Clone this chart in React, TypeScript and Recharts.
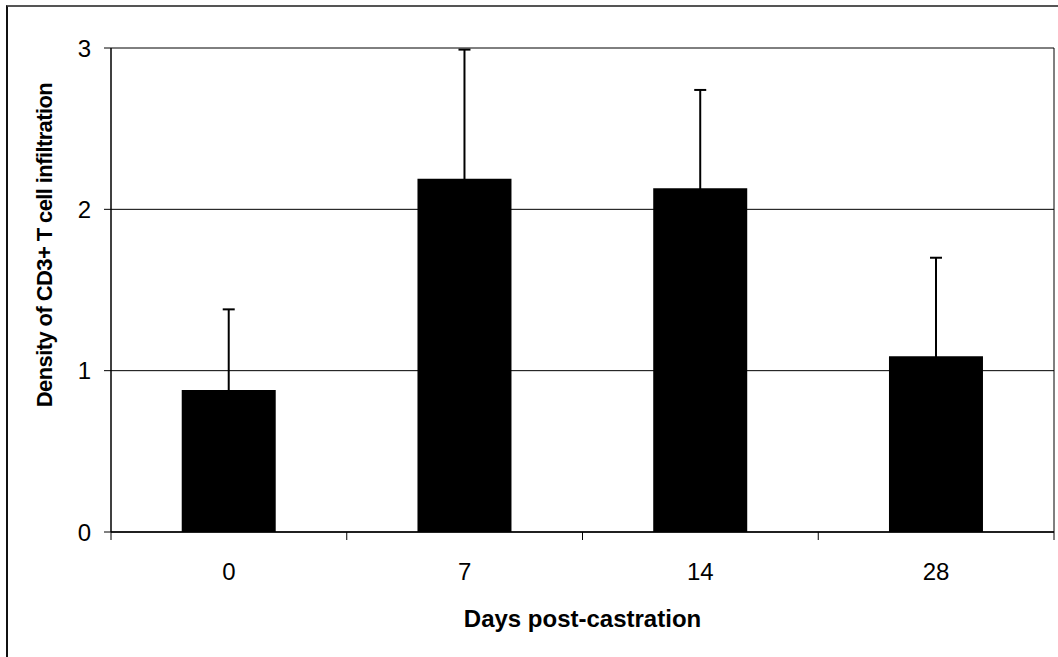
import React from 'react';
import { BarChart, Bar, XAxis, YAxis, CartesianGrid, ErrorBar, Label } from 'recharts';

const categories = ['0', '7', '14', '28'];
const means = [0.88, 2.19, 2.13, 1.09];
const errors = [0.5, 0.8, 0.61, 0.61];
const yTicks = [0, 1, 2, 3];
const xTitle = 'Days post-castration';
const yTitle = 'Density of CD3+ T cell infiltration';

// lower whisker is hidden inside the bar (plus-only error bars)
const data = categories.map((c, i) => ({ day: c, mean: means[i], err: [0.02, errors[i]] }));

const FONT = '"Liberation Sans", Arial, sans-serif';
const X_TICK_SIZE = 8;
const X_TICK_MARGIN = 23;

const XTick = (props: any) => {
  const { x, y, payload, index, visibleTicksCount, width } = props;
  const band = width / visibleTicksCount;
  const axisY = y - X_TICK_MARGIN - X_TICK_SIZE;
  const left = x - band / 2;
  const right = x + band / 2;
  return (
    <g>
      <line x1={left} y1={axisY} x2={left} y2={axisY + X_TICK_SIZE} stroke="#000" strokeWidth={1} />
      {index === visibleTicksCount - 1 && (
        <line x1={right} y1={axisY} x2={right} y2={axisY + X_TICK_SIZE} stroke="#000" strokeWidth={1} />
      )}
      <text x={x} y={y} dy="0.71em" textAnchor="middle" fontFamily={FONT} fontSize={24} fill="#000">
        {payload.value}
      </text>
    </g>
  );
};

const YTitle = (props: any) => {
  const { viewBox } = props;
  const x = viewBox.x + 44;
  const y = viewBox.y + viewBox.height / 2 - 45;
  return (
    <text
      x={x}
      y={y}
      transform={`rotate(-90, ${x}, ${y})`}
      textAnchor="middle"
      dominantBaseline="central"
      fontFamily={FONT}
      fontWeight="bold"
      fontSize={22}
      letterSpacing={-0.6}
      fill="#000"
    >
      {yTitle}
    </text>
  );
};

export default function App() {
  return (
    <div style={{ position: 'absolute', left: 0, top: 0, width: 1058, height: 657, overflow: 'hidden', background: '#fff' }}>
      <div
        style={{
          position: 'absolute',
          left: 6,
          top: 5,
          width: 1200,
          height: 800,
          borderLeft: '2px solid #111',
          borderTop: '2px solid #555',
          boxSizing: 'border-box',
        }}
      />
      <div style={{ position: 'absolute', left: 0, top: 0 }}>
        <BarChart
          width={1058}
          height={657}
          data={data}
          margin={{ top: 48, right: 4, bottom: 0, left: 0 }}
          barCategoryGap="30%"
        >
          <CartesianGrid
            stroke="#000"
            strokeWidth={1}
            vertical={true}
            verticalCoordinatesGenerator={({ offset }: any) => [offset.left + offset.width]}
          />
          <XAxis
            dataKey="day"
            height={125}
            axisLine={{ stroke: '#000', strokeWidth: 1.5 }}
            tickLine={false}
            tickSize={X_TICK_SIZE}
            tickMargin={X_TICK_MARGIN}
            tick={<XTick />}
            interval={0}
          >
            <Label
              value={xTitle}
              position="insideTop"
              offset={78}
              fontFamily={FONT}
              fontWeight="bold"
              fontSize={24}
              fill="#000"
            />
          </XAxis>
          <YAxis
            width={111}
            domain={[0, 3]}
            ticks={yTicks}
            interval={0}
            axisLine={{ stroke: '#000', strokeWidth: 1.5 }}
            tickLine={{ stroke: '#000' }}
            tickSize={7}
            tickMargin={13}
            tick={{ fontFamily: FONT, fontSize: 24, fill: '#000' }}
          >
            <Label content={<YTitle />} />
          </YAxis>
          <Bar dataKey="mean" fill="#000" isAnimationActive={false}>
            <ErrorBar dataKey="err" direction="y" width={6} stroke="#000" strokeWidth={2} />
          </Bar>
        </BarChart>
      </div>
    </div>
  );
}
